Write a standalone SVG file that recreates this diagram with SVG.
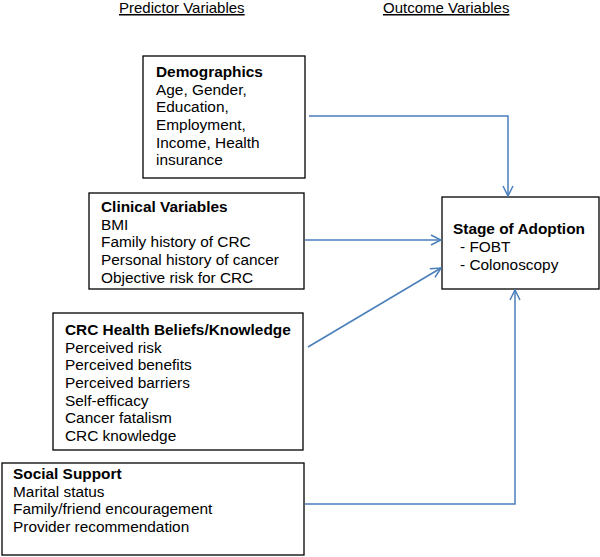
<svg xmlns="http://www.w3.org/2000/svg" width="600" height="557" viewBox="0 0 600 557">
<style>
text{font-family:"Liberation Sans",Arial,sans-serif;font-size:15.4px;fill:#000}
.t{font-weight:bold}
.h{text-decoration:underline;font-size:15px}
rect{fill:#fff;stroke:#000;stroke-width:1.3}
.c{fill:none;stroke:#4a7ebb;stroke-width:1.5}
</style>
<defs>
<marker id="a" viewBox="0 0 12 12" refX="11" refY="6" markerWidth="12" markerHeight="12" markerUnits="userSpaceOnUse" orient="auto">
<path d="M1,1 L11,6 L1,11" fill="none" stroke="#4a7ebb" stroke-width="1.5"/>
</marker>
</defs>
<g id="headers">
<text x="119" y="13" class="h">Predictor Variables</text>
<text x="383" y="13" class="h">Outcome Variables</text>
</g>
<g id="demographics">
<rect x="143" y="56" width="162" height="122"/>
<text x="156" y="77" class="t">Demographics</text>
<text x="156" y="95">Age, Gender,</text>
<text x="156" y="112">Education,</text>
<text x="156" y="130">Employment,</text>
<text x="156" y="148">Income, Health</text>
<text x="156" y="165">insurance</text>
</g>
<g id="clinical">
<rect x="89" y="193" width="215" height="96"/>
<text x="101" y="212" class="t">Clinical Variables</text>
<text x="101" y="230">BMI</text>
<text x="101" y="247">Family history of CRC</text>
<text x="101" y="265">Personal history of cancer</text>
<text x="101" y="283">Objective risk for CRC</text>
</g>
<g id="beliefs">
<rect x="53" y="313" width="250" height="137"/>
<text x="65" y="335" class="t">CRC Health Beliefs/Knowledge</text>
<text x="65" y="353">Perceived risk</text>
<text x="65" y="370">Perceived benefits</text>
<text x="65" y="388">Perceived barriers</text>
<text x="65" y="406">Self-efficacy</text>
<text x="65" y="423">Cancer fatalism</text>
<text x="65" y="441">CRC knowledge</text>
</g>
<g id="social">
<rect x="2" y="463" width="302" height="92"/>
<text x="13" y="479" class="t">Social Support</text>
<text x="13" y="497">Marital status</text>
<text x="13" y="514">Family/friend encouragement</text>
<text x="13" y="532">Provider recommendation</text>
</g>
<g id="stage">
<rect x="442" y="197" width="157" height="92"/>
<text x="453" y="234" class="t">Stage of Adoption</text>
<text x="460" y="252">- FOBT</text>
<text x="460" y="270">- Colonoscopy</text>
</g>
<g id="connectors">
<path class="c" d="M309,116 H508 V196" marker-end="url(#a)"/>
<path class="c" d="M305,240 H441" marker-end="url(#a)"/>
<path class="c" d="M308,347 L441,268" marker-end="url(#a)"/>
<path class="c" d="M305,504 H515 V290" marker-end="url(#a)"/>
</g>
</svg>
